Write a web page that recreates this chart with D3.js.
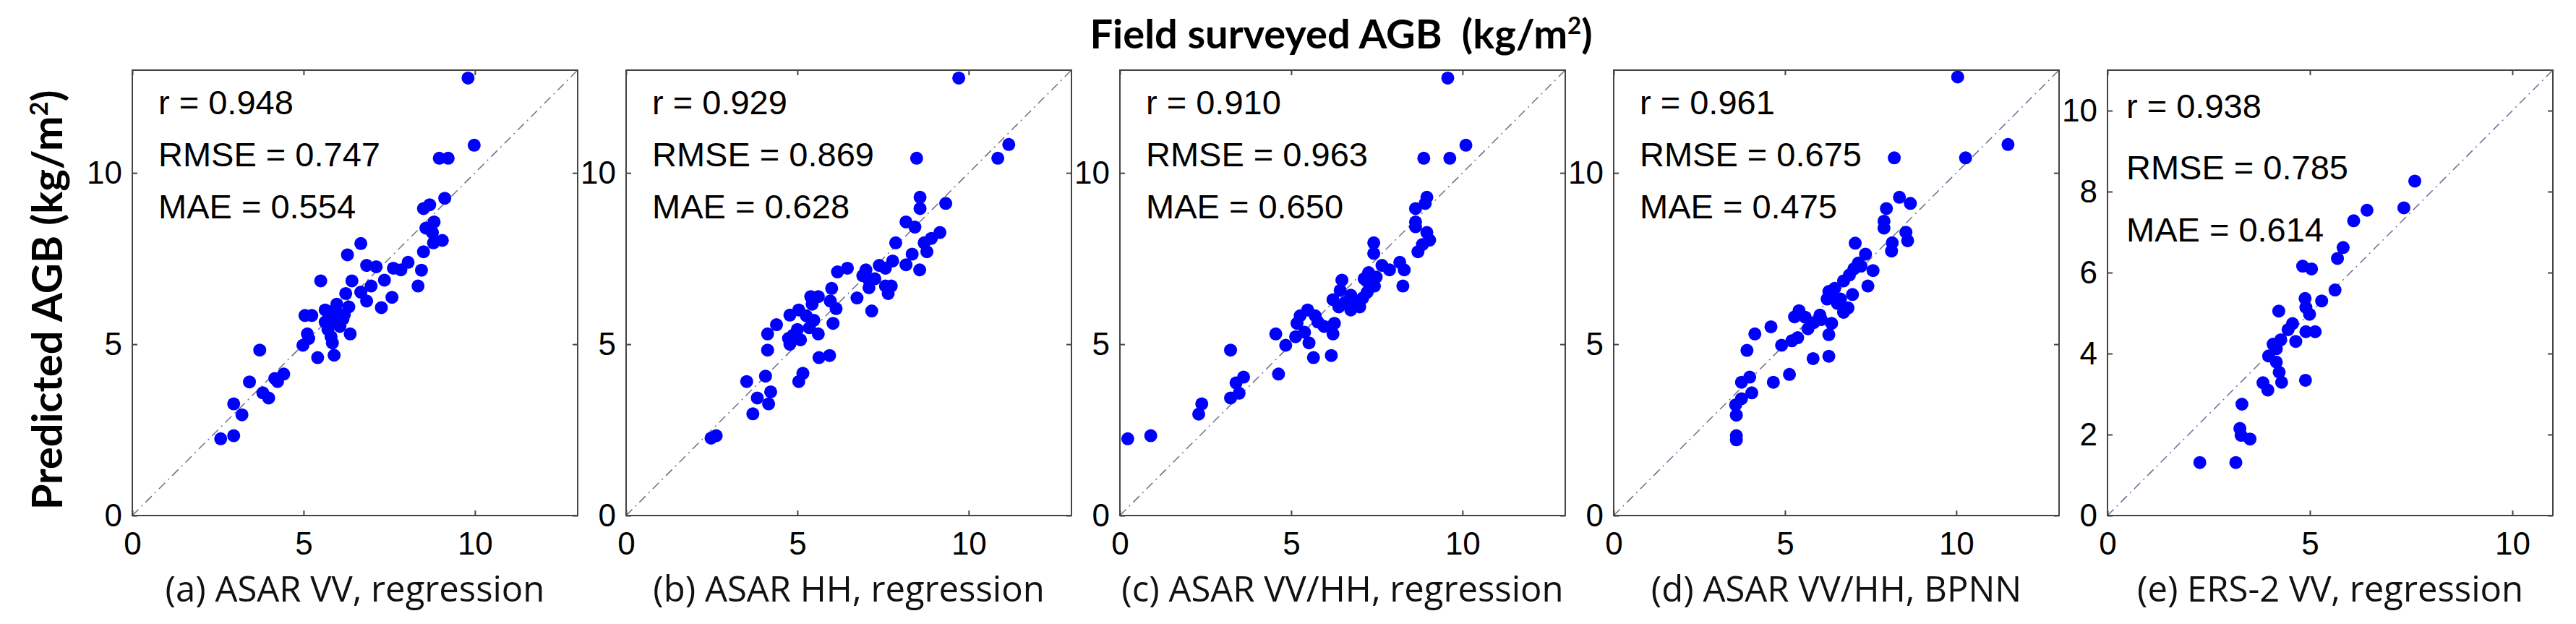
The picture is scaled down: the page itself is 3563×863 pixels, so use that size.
<!DOCTYPE html>
<html>
<head>
<meta charset="utf-8">
<script src="https://cdn.jsdelivr.net/npm/d3@7"></script>
<style>
  body { margin: 0; background: #fff; }
</style>
</head>
<body>
<div id="chart"></div>
<script>
// observed (field surveyed) vs predicted AGB, one array of [x, y] pairs per panel
var panelA = [[9.80,12.77],[9.98,10.81],[8.96,10.43],[9.22,10.43],[9.12,9.26],[8.50,8.96],[8.68,9.07],[8.81,8.57],[8.57,8.39],[8.76,8.26],[9.05,8.03],[8.79,7.96],[8.50,7.70],[6.67,7.94],[6.28,7.61],[6.84,7.30],[7.12,7.26],[7.36,6.87],[7.62,7.22],[7.84,7.17],[8.05,7.39],[8.44,7.16],[8.34,6.70],[5.50,6.85],[6.41,6.85],[6.97,6.70],[6.23,6.48],[6.67,6.52],[6.84,6.26],[7.58,6.37],[7.27,6.07],[5.04,5.84],[5.24,5.84],[5.71,5.95],[5.97,5.91],[6.19,5.87],[5.63,5.65],[5.87,5.65],[5.71,5.43],[6.06,5.52],[6.36,5.30],[5.11,5.30],[5.15,5.17],[5.80,5.22],[5.84,5.04],[4.98,4.97],[5.41,4.61],[5.89,4.68],[3.72,4.83],[3.42,3.90],[4.16,4.00],[4.42,4.13],[4.24,3.91],[3.81,3.58],[3.98,3.43],[2.96,3.26],[3.20,2.94],[2.58,2.24],[2.96,2.33],[5.97,6.17],[6.32,6.09],[5.63,6.00],[6.15,5.74]];
var panelB = [[9.71,12.77],[11.17,10.83],[10.85,10.43],[8.48,10.43],[8.58,9.29],[8.58,8.96],[9.33,9.11],[8.17,8.57],[8.43,8.42],[7.87,7.96],[9.16,8.26],[8.91,8.09],[8.70,7.96],[8.78,7.70],[8.35,7.63],[8.17,7.32],[8.57,7.17],[7.78,7.43],[7.57,7.22],[7.39,7.30],[7.00,7.17],[6.91,7.00],[7.09,6.87],[7.26,6.91],[7.57,6.70],[7.74,6.70],[7.65,6.48],[6.17,7.11],[6.46,7.22],[6.00,6.63],[6.74,6.35],[7.17,5.97],[5.39,6.39],[5.61,6.39],[5.96,6.26],[6.13,6.04],[6.04,5.61],[5.04,6.00],[4.78,5.85],[5.26,5.83],[5.48,5.70],[5.35,5.48],[5.61,5.30],[4.87,5.26],[5.09,5.13],[4.78,5.00],[4.39,5.57],[4.13,5.30],[4.13,4.83],[5.63,4.61],[5.94,4.67],[5.16,4.15],[5.04,3.91],[3.52,3.91],[4.07,4.07],[3.83,3.43],[4.22,3.61],[4.16,3.26],[3.70,2.97],[2.48,2.26],[2.63,2.33],[5.00,5.43],[4.74,5.17],[5.43,6.17],[7.09,6.65]];
var panelC = [[9.57,12.77],[10.10,10.81],[8.87,10.43],[9.63,10.43],[8.96,9.29],[8.91,9.11],[8.63,8.96],[8.63,8.57],[8.63,8.43],[8.96,8.26],[9.04,8.04],[8.83,7.91],[8.70,7.70],[7.41,7.96],[7.41,7.65],[8.17,7.39],[8.30,7.17],[8.26,6.70],[7.65,7.30],[7.87,7.17],[7.26,7.09],[7.48,6.96],[7.22,6.83],[7.43,6.70],[6.48,6.87],[6.43,6.57],[6.74,6.43],[6.22,6.30],[6.39,6.09],[6.74,6.00],[7.00,6.09],[7.09,6.35],[7.22,6.52],[6.57,6.22],[5.48,6.00],[5.26,5.83],[5.70,5.83],[5.17,5.61],[5.96,5.52],[6.26,5.61],[6.22,5.30],[5.13,5.22],[5.39,5.35],[5.52,5.04],[4.55,5.30],[4.84,4.97],[5.65,4.61],[6.17,4.67],[3.23,4.83],[3.61,4.04],[3.39,3.87],[3.48,3.57],[3.23,3.43],[4.63,4.13],[2.39,3.26],[2.30,2.96],[0.23,2.24],[0.90,2.33],[5.78,5.65],[6.91,6.22],[7.13,6.91]];
var panelD = [[10.04,12.80],[11.51,10.83],[10.27,10.44],[8.19,10.44],[8.34,9.29],[8.66,9.11],[7.96,8.96],[7.89,8.59],[7.89,8.39],[8.53,8.27],[8.58,8.02],[8.13,7.96],[8.11,7.72],[7.05,7.95],[7.35,7.63],[7.22,7.28],[7.57,7.15],[7.42,6.70],[7.01,7.20],[6.88,7.02],[6.71,6.85],[6.45,6.63],[6.97,6.45],[6.36,6.41],[6.62,6.32],[6.23,6.32],[6.84,6.06],[6.71,5.93],[6.53,6.19],[5.41,5.98],[5.28,5.80],[5.59,5.79],[6.02,5.85],[5.84,5.63],[6.36,5.61],[6.28,5.28],[5.67,5.45],[5.37,5.19],[5.20,5.10],[4.90,4.97],[4.59,5.51],[4.12,5.30],[3.89,4.82],[5.82,4.58],[6.28,4.65],[5.13,4.12],[4.66,3.89],[3.97,4.04],[3.73,3.89],[4.03,3.58],[3.73,3.41],[3.56,3.23],[3.58,2.93],[3.58,2.33],[3.58,2.21],[6.28,6.54],[7.14,7.37],[6.06,5.72]];
var panelE = [[7.59,8.26],[7.32,7.60],[6.41,7.54],[6.08,7.28],[5.82,6.62],[5.68,6.35],[4.82,6.16],[5.04,6.09],[5.62,5.57],[4.88,5.36],[5.29,5.30],[4.23,5.05],[4.90,5.14],[4.99,4.97],[4.57,4.74],[4.46,4.59],[4.90,4.54],[5.13,4.54],[4.65,4.30],[4.28,4.34],[4.09,4.23],[4.17,4.12],[3.98,3.94],[4.17,3.79],[4.24,3.54],[4.30,3.29],[3.84,3.28],[3.96,3.10],[4.89,3.34],[3.32,2.75],[3.27,2.15],[3.30,1.98],[3.52,1.89],[2.28,1.31],[3.17,1.31]];

var subtitles = ["(a) ASAR VV, regression", "(b) ASAR HH, regression", "(c) ASAR VV/HH, regression", "(d) ASAR VV/HH, BPNN", "(e) ERS-2 VV, regression"];
var rValues = ["0.948", "0.929", "0.910", "0.961", "0.938"];
var rmseValues = ["0.747", "0.869", "0.963", "0.675", "0.785"];
var maeValues = ["0.554", "0.628", "0.650", "0.475", "0.614"];
var axisMax = [13, 13, 13, 13, 11];
var xTicks = [[0, 5, 10], [0, 5, 10], [0, 5, 10], [0, 5, 10], [0, 5, 10]];
var yTicks = [[0, 5, 10], [0, 5, 10], [0, 5, 10], [0, 5, 10], [0, 2, 4, 6, 8, 10]];

var allPanels = [panelA, panelB, panelC, panelD, panelE];

var width = 3563, height = 863;
var size = 616, plotTop = 97, left0 = 183, step = 683;

var svg = d3.select("#chart")
  .append("svg")
    .attr("width", width)
    .attr("height", height)
    .style("font-family", "'Liberation Sans', Arial, sans-serif");

svg.append("rect").attr("width", width).attr("height", height).attr("fill", "#fff");

// overall x title
var title = svg.append("text")
  .attr("x", 1855)
  .attr("y", 67)
  .attr("text-anchor", "middle")
  .style("white-space", "pre")
  .style("font-family", "Lato, sans-serif")
  .style("font-weight", "bold")
  .style("font-size", "56px");
title.append("tspan").text("Field surveyed AGB  (kg/m");
title.append("tspan").attr("dy", -20).style("font-size", "33px").text("2");
title.append("tspan").attr("dy", 20).text(")");

// shared y title
var ylab = svg.append("text")
  .attr("transform", "translate(86,415) rotate(-90)")
  .attr("text-anchor", "middle")
  .style("font-family", "Lato, sans-serif")
  .style("font-weight", "bold")
  .style("font-size", "58px");
ylab.append("tspan").text("Predicted AGB (kg/m");
ylab.append("tspan").attr("dy", -20).style("font-size", "34px").text("2");
ylab.append("tspan").attr("dy", 20).text(")");

allPanels.forEach(function(data, i) {
  var left = left0 + i * step;
  var x = d3.scaleLinear().domain([0, axisMax[i]]).range([left, left + size]);
  var y = d3.scaleLinear().domain([0, axisMax[i]]).range([plotTop + size, plotTop]);

  var g = svg.append("g");

  g.append("clipPath").attr("id", "clip" + i)
    .append("rect").attr("x", left).attr("y", plotTop).attr("width", size).attr("height", size);

  // 1:1 line
  g.append("line")
    .attr("clip-path", "url(#clip" + i + ")")
    .attr("x1", x(0)).attr("y1", y(0))
    .attr("x2", x(axisMax[i])).attr("y2", y(axisMax[i]))
    .style("stroke", "#6e6e8c")
    .style("stroke-width", 1.5)
    .style("stroke-dasharray", "12,6,2,6");

  // axes, ticks pointing inwards on all four sides
  g.append("g")
    .attr("transform", "translate(0," + (plotTop + size) + ")")
    .call(d3.axisBottom(x).tickValues(xTicks[i]).tickSize(-7).tickPadding(23).tickFormat(d3.format("d")));
  g.append("g")
    .attr("transform", "translate(" + left + ",0)")
    .call(d3.axisLeft(y).tickValues(yTicks[i]).tickSize(-7).tickPadding(14).tickFormat(d3.format("d")));
  g.append("g")
    .attr("transform", "translate(0," + plotTop + ")")
    .call(d3.axisTop(x).tickValues(xTicks[i]).tickSize(-7).tickFormat(""));
  g.append("g")
    .attr("transform", "translate(" + (left + size) + ",0)")
    .call(d3.axisRight(y).tickValues(yTicks[i]).tickSize(-7).tickFormat(""));

  g.selectAll(".domain").remove();
  g.selectAll(".tick line").style("stroke", "#444").style("stroke-width", 2);
  g.selectAll(".tick text")
    .style("font-family", "'Liberation Sans', Arial, sans-serif")
    .style("font-size", "44px")
    .style("fill", "#000");

  g.append("rect")
    .attr("x", left).attr("y", plotTop)
    .attr("width", size).attr("height", size)
    .attr("fill", "none")
    .style("stroke", "#444")
    .style("stroke-width", 2);

  // points
  g.append("g")
    .attr("clip-path", "url(#clip" + i + ")")
    .selectAll("circle")
    .data(data)
    .enter()
    .append("circle")
      .attr("cx", d => x(d[0]))
      .attr("cy", d => y(d[1]))
      .attr("r", 9)
      .style("fill", "#0000ff");

  // statistics text
  var lines = ["r = " + rValues[i], "RMSE = " + rmseValues[i], "MAE = " + maeValues[i]];
  var tx = i == 4 ? left + 26 : left + 36;
  var ty = i == 4 ? [163, 248, 334] : [158, 230, 302];
  g.selectAll(".stat")
    .data(lines)
    .enter()
    .append("text")
      .attr("class", "stat")
      .attr("x", tx)
      .attr("y", (d, j) => ty[j])
      .style("font-size", "47px")
      .style("fill", "#000")
      .text(d => d);

  // panel caption
  g.append("text")
    .attr("x", left + size / 2)
    .attr("y", 832)
    .attr("text-anchor", "middle")
    .style("font-family", "'Open Sans', sans-serif")
    .style("font-size", "49px")
    .style("fill", "#111")
    .text(subtitles[i]);
});
</script>
</body>
</html>
